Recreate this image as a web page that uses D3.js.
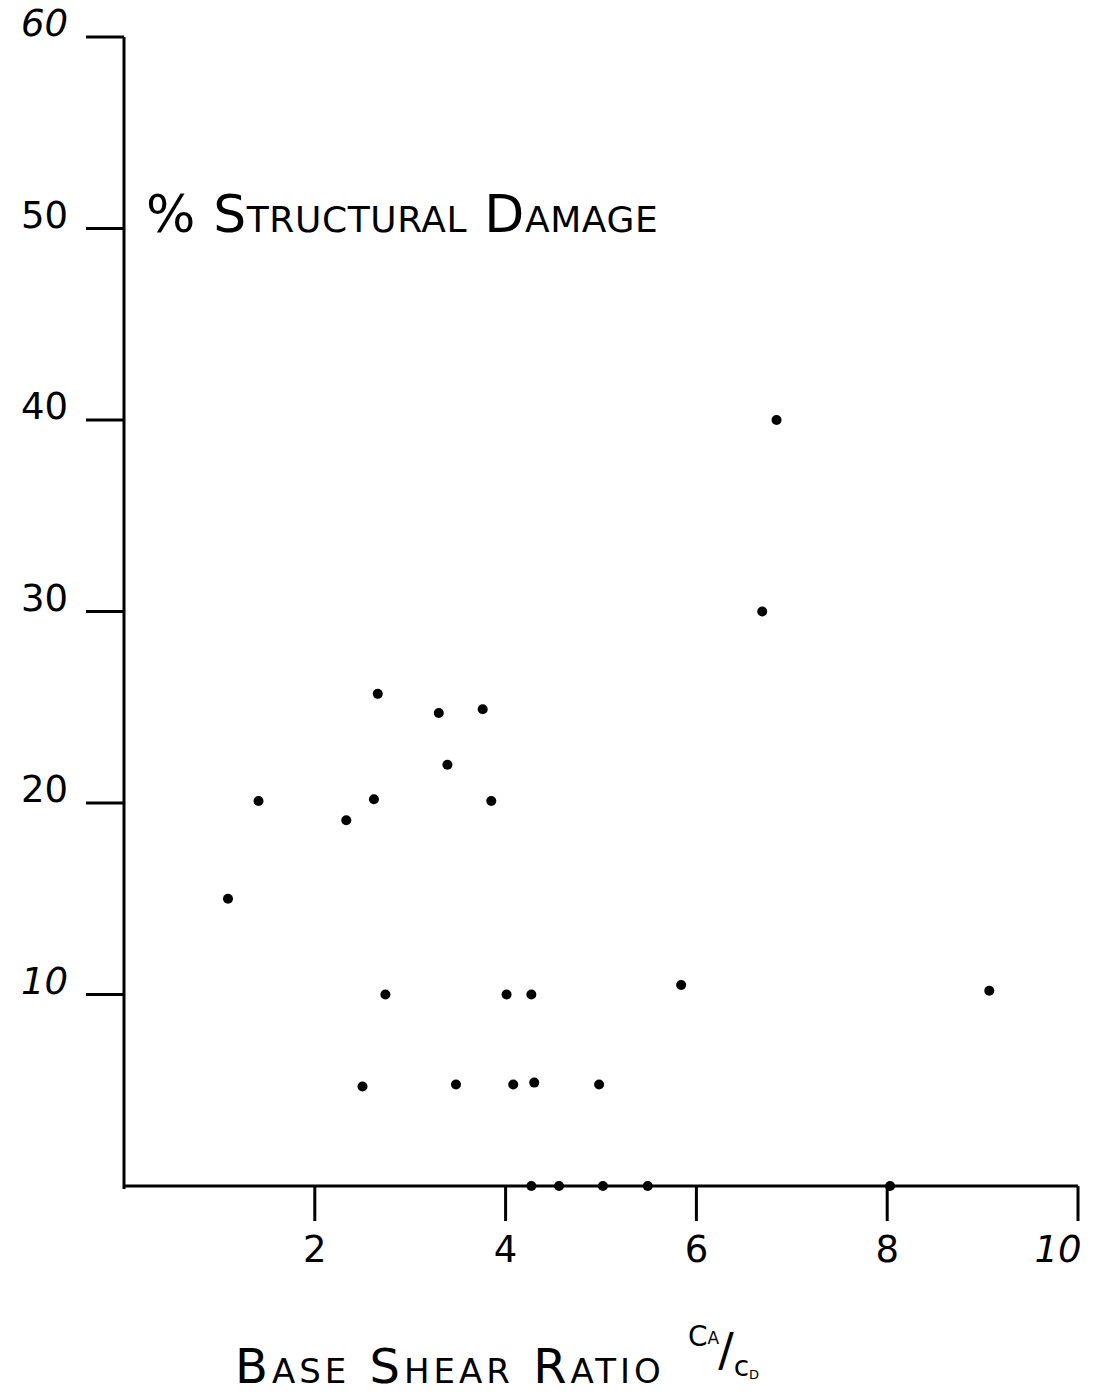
<!DOCTYPE html>
<html>
<head>
<meta charset="utf-8">
<script src="https://cdn.jsdelivr.net/npm/d3@7"></script>
<style>
  body { margin: 0; background: #fff; }
  svg { display: block; }
  .axis line, .axis path { stroke: #000; }
  .lbl { font-family: "DejaVu Sans", sans-serif; fill: #000; }
</style>
</head>
<body>
<svg id="chart" width="1094" height="1393"></svg>
<script>
  // base shear ratio CA/CD vs % structural damage
  const ratio  = [1.09, 1.41, 2.33, 2.62, 2.66, 2.74, 2.50, 3.30, 3.39, 3.76, 3.85, 3.48,
                  4.01, 4.27, 4.08, 4.30, 4.98, 5.84, 6.69, 6.84, 9.07,
                  4.27, 4.56, 5.02, 5.49, 8.03];
  const damage = [15.0, 20.1, 19.1, 20.2, 25.7, 10.0, 5.2, 24.7, 22.0, 24.9, 20.1, 5.3,
                  10.0, 10.0, 5.3, 5.4, 5.3, 10.5, 30.0, 40.0, 10.2,
                  0, 0, 0, 0, 0];
  const xTicks = [2, 4, 6, 8, 10];
  const yTicks = [10, 20, 30, 40, 50, 60];

  const svg = d3.select('#chart');
  const x = d3.scaleLinear().domain([0, 10]).range([124, 1078]);
  const y = d3.scaleLinear().domain([0, 60]).range([1186, 37]);

  // axes: plain lines + ticks
  const g = svg.append('g').attr('class', 'axis');
  g.append('line')
    .attr('x1', x(0)).attr('x2', x(0)).attr('y1', y(60)).attr('y2', y(0) + 3)
    .attr('stroke-width', 3);
  g.append('line')
    .attr('x1', x(0) - 1).attr('x2', x(10)).attr('y1', y(0)).attr('y2', y(0))
    .attr('stroke-width', 3);

  g.selectAll('.xt').data(xTicks).enter().append('line')
    .attr('x1', d => x(d)).attr('x2', d => x(d))
    .attr('y1', y(0)).attr('y2', y(0) + 35)
    .attr('stroke-width', 3);
  g.selectAll('.yt').data(yTicks).enter().append('line')
    .attr('x1', x(0) - 38).attr('x2', x(0))
    .attr('y1', d => y(d)).attr('y2', d => y(d))
    .attr('stroke-width', 3);

  svg.selectAll('.xl').data(xTicks).enter().append('text')
    .attr('class', 'lbl')
    .attr('x', d => x(d) - (d === 10 ? 20 : 0))
    .attr('y', y(0) + 76)
    .attr('text-anchor', 'middle')
    .attr('font-size', 37)
    .attr('font-style', d => d === 10 ? 'italic' : 'normal')
    .text(d => d);

  svg.selectAll('.yl').data(yTicks).enter().append('text')
    .attr('class', 'lbl')
    .attr('x', 68)
    .attr('y', d => y(d) - 1)
    .attr('text-anchor', 'end')
    .attr('font-size', 37)
    .attr('font-style', d => (d === 10 || d === 60) ? 'italic' : 'normal')
    .text(d => d);

  // points
  svg.selectAll('circle').data(d3.range(ratio.length)).enter().append('circle')
    .attr('cx', i => x(ratio[i]))
    .attr('cy', i => y(damage[i]))
    .attr('r', 5)
    .attr('fill', '#000');

  // titles
  svg.append('text').attr('class', 'lbl')
    .attr('x', 146).attr('y', 232)
    .attr('font-size', 52)
    .style('font-variant', 'small-caps')
    .attr('letter-spacing', 0.6)
    .text('% Structural Damage');

  svg.append('text').attr('class', 'lbl')
    .attr('x', 235).attr('y', 1383)
    .attr('font-size', 48)
    .style('font-variant', 'small-caps')
    .attr('letter-spacing', 4)
    .text('Base Shear Ratio');

  // CA/CD as one text with shifted tspans
  const c = svg.append('text').attr('class', 'lbl').attr('font-size', 28)
    .attr('x', 688).attr('y', 1346);
  c.append('tspan').text('C');
  c.append('tspan').attr('font-size', 17).attr('dy', -2).text('A');
  c.append('tspan').attr('font-size', 46).attr('dy', 22).attr('dx', -1).text('/');
  c.append('tspan').attr('dy', 10).attr('dx', 0).text('c');
  c.append('tspan').attr('font-size', 13).attr('dy', 3).text('D');
</script>
</body>
</html>
